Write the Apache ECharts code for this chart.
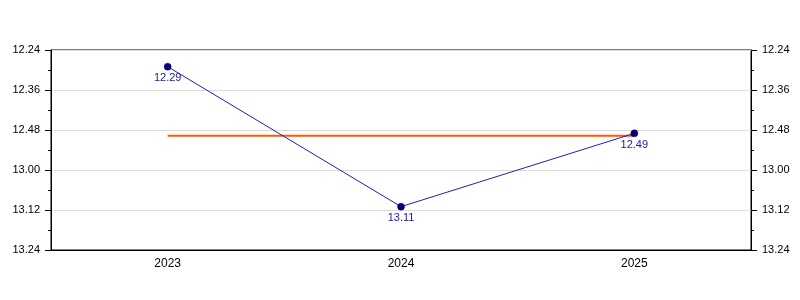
<!DOCTYPE html>
<html>
<head>
<meta charset="utf-8">
<script src="https://cdn.jsdelivr.net/npm/echarts@6/dist/echarts.min.js"></script>
<style>html,body{margin:0;padding:0;background:#fff}#c{width:800px;height:300px}</style>
</head>
<body>
<div id="c"></div>
<script>
// Data (times as minutes.seconds)
var categories = ['2023', '2024', '2025'];
var times = ['12.29', '13.11', '12.49'];
var averageTimes = ['12.49.7', '12.49.7', '12.49.7'];
var yTicks = ['12.24', '12.36', '12.48', '13.00', '13.12', '13.24'];

function toSec(t) {
  var p = t.split('.');
  var s = parseInt(p[0], 10) * 60 + parseInt(p[1], 10);
  if (p.length > 2) s += parseFloat('0.' + p[2]);
  return s;
}
function fmt(v) {
  var m = Math.floor(v / 60);
  var s = Math.round(v - m * 60);
  return m + '.' + (s < 10 ? '0' : '') + s;
}
var values = times.map(toSec);
var avgValues = averageTimes.map(toSec);
var yMin = toSec(yTicks[0]);
var yMax = toSec(yTicks[yTicks.length - 1]);
var yStep = toSec(yTicks[1]) - yMin;

var font = 'Liberation Sans, Arial, sans-serif';
function yAxis(pos, grid) {
  return {
    type: 'value', position: pos, inverse: true,
    min: yMin, max: yMax, interval: yStep,
    axisLine: { show: true, lineStyle: { color: '#000', width: 1 } },
    axisTick: { show: true, inside: false, length: 6, lineStyle: { color: '#000' } },
    minorTick: { show: true, splitNumber: 2, length: 3, lineStyle: { color: '#000' } },
    axisLabel: { color: '#000', fontFamily: font, fontSize: 11, margin: 11, formatter: fmt },
    splitLine: { show: grid, lineStyle: { color: '#dcdcdc', width: 1 } }
  };
}

var chart = echarts.init(document.getElementById('c'), null, { renderer: 'canvas' });
chart.setOption({
  animation: false,
  grid: { left: 51, right: 49, top: 50, bottom: 50, show: true, borderColor: '#000', borderWidth: 1 },
  xAxis: {
    type: 'category', data: categories, boundaryGap: true,
    axisLine: { lineStyle: { color: '#000', width: 1 } },
    axisTick: { alignWithLabel: true, length: 5, lineStyle: { color: '#000' } },
    axisLabel: { color: '#000', fontFamily: font, fontSize: 12, margin: 8 },
    splitLine: { show: false }
  },
  yAxis: [yAxis('left', true), yAxis('right', false)],
  series: [
    {
      type: 'line', data: avgValues, yAxisIndex: 0,
      symbol: 'none', lineStyle: { color: '#ff5a00', width: 2 },
      z: 2
    },
    {
      type: 'line', data: values, yAxisIndex: 0,
      symbol: 'circle', symbolSize: 7,
      itemStyle: { color: '#000080', borderColor: '#000040', borderWidth: 0.5 },
      lineStyle: { color: '#2020b0', width: 1 },
      label: {
        show: true, position: 'bottom', distance: 2,
        color: '#1a1aa0', fontFamily: font, fontSize: 11,
        formatter: function (p) { return fmt(p.value); }
      },
      z: 3
    }
  ]
});
</script>
</body>
</html>
